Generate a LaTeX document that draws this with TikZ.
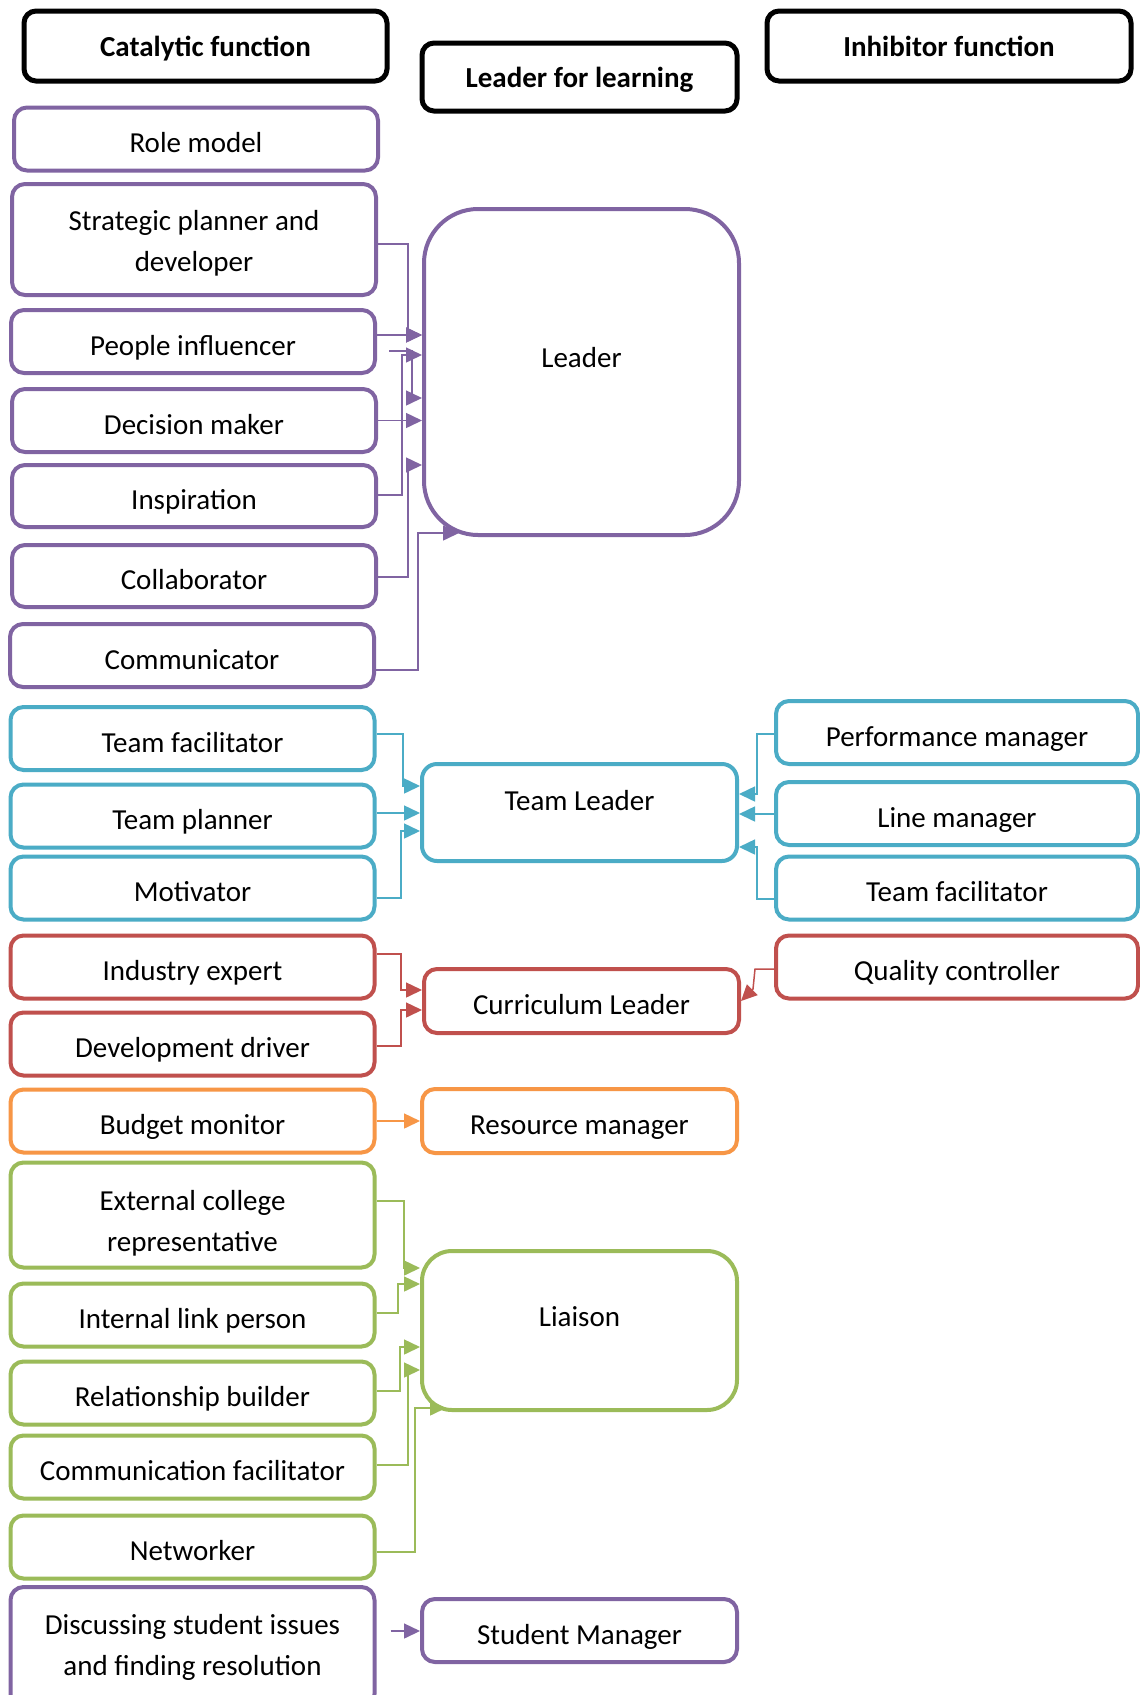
\documentclass[tikz,border=0pt]{standalone}
\usepackage{fontspec}
\setmainfont{Carlito}
\usetikzlibrary{arrows.meta}
\definecolor{cpurple}{HTML}{8064A2}
\definecolor{cteal}{HTML}{4BACC6}
\definecolor{cred}{HTML}{C0504D}
\definecolor{corange}{HTML}{F79646}
\definecolor{cgreen}{HTML}{9BBB59}
\newcommand{\boxfont}{\fontsize{29}{41}\selectfont}
\begin{document}
\begin{tikzpicture}[x=1pt,y=-1pt,
  box/.style={draw, line width=4pt, rounded corners=13pt, fill=white, inner sep=0pt,
    align=center, font=\boxfont, minimum height=63pt, text height=28pt, text depth=1pt},
  lbox/.style={box, minimum width=364pt},
  rbox/.style={box, minimum width=362pt},
  mbox/.style={box, minimum width=315pt},
  head/.style={box, draw=black, line width=5pt, rounded corners=12pt,
    font=\bfseries\boxfont, minimum height=70pt, text height=22pt, text depth=1pt},
  link/.style={line width=1.5pt, -{Triangle[length=16pt,width=15pt]}},
  midtext/.style={font=\boxfont, yshift=#1},
]
\useasboundingbox (0,0) rectangle (1140,1695);
\clip (0,0) rectangle (1140,1695);
\fill[white] (0,0) rectangle (1140,1695);

% column headings
\node[head, minimum width=363pt] (cat) at (205.5,46) {Catalytic function};
\node[head, minimum width=315pt, minimum height=68pt] (lfl) at (579.5,77) {Leader for learning};
\node[head, minimum width=364pt] (inh) at (949,46) {Inhibitor function};

% catalytic functions
\node[lbox, draw=cpurple] (role) at (196,139) {Role model};
\node[lbox, draw=cpurple, minimum height=111pt, text height=63pt, text depth=0pt] (strat) at (194,239.5) {Strategic planner and\\developer};
\node[lbox, draw=cpurple] (people) at (193,341.5) {People influencer};
\node[lbox, draw=cpurple] (decision) at (194,420.5) {Decision maker};
\node[lbox, draw=cpurple, minimum height=62pt] (inspire) at (194,496) {Inspiration};
\node[lbox, draw=cpurple, minimum height=62pt] (collab) at (194,576) {Collaborator};
\node[lbox, draw=cpurple] (comm) at (192,655.5) {Communicator};

\node[lbox, draw=cteal] (tfac) at (192.5,738.5) {Team facilitator};
\node[lbox, draw=cteal] (tplan) at (192.5,816) {Team planner};
\node[lbox, draw=cteal] (motiv) at (192.5,888) {Motivator};

\node[lbox, draw=cred] (industry) at (192.5,967) {Industry expert};
\node[lbox, draw=cred] (devdrv) at (192.5,1044) {Development driver};

\node[lbox, draw=corange] (budget) at (192.5,1121) {Budget monitor};

\node[lbox, draw=cgreen, minimum height=105pt, text height=73pt, text depth=0pt] (extcol) at (192.5,1215) {External college\\representative};
\node[lbox, draw=cgreen] (intlink) at (192.5,1315) {Internal link person};
\node[lbox, draw=cgreen] (relbuild) at (192.5,1393) {Relationship builder};
\node[lbox, draw=cgreen] (commfac) at (192.5,1467) {Communication facilitator};
\node[lbox, draw=cgreen] (network) at (192.5,1547) {Networker};

\node[lbox, draw=cpurple, minimum height=120pt, text height=62pt, text depth=6pt] (discuss) at (192.5,1647) {Discussing student issues\\and finding resolution};

% leader-for-learning roles
\node[mbox, draw=cpurple, minimum height=326pt, rounded corners=54pt,
  label={[midtext=14pt]center:Leader}] (leader) at (581.5,372) {};
\node[mbox, draw=cteal, minimum height=97pt, rounded corners=15pt,
  label={[midtext=12pt]center:Team Leader}] (tleader) at (579.5,812.5) {};
\node[mbox, draw=cred, minimum height=64pt] (cleader) at (581.5,1001) {Curriculum Leader};
\node[mbox, draw=corange, minimum height=64pt] (resmgr) at (579.5,1121) {Resource manager};
\node[mbox, draw=cgreen, minimum height=159pt, rounded corners=30pt,
  label={[midtext=14pt]center:Liaison}] (liaison) at (579.5,1330.5) {};
\node[mbox, draw=cpurple] (stumgr) at (579.5,1630.5) {Student Manager};

% inhibitor functions
\node[rbox, draw=cteal] (perf) at (957,732.5) {Performance manager};
\node[rbox, draw=cteal] (linemgr) at (957,813.5) {Line manager};
\node[rbox, draw=cteal] (tfacr) at (957,888) {Team facilitator};
\node[rbox, draw=cred] (quality) at (957,967) {Quality controller};

% connectors into Leader
\begin{scope}[cpurple]
\draw[link] (strat.east |- 0,244) -| (408,335) -- (leader.west |- 0,335);
\draw[link] (people.east |- 0,335) -- (leader.west |- 0,335);
\draw[link] ([xshift=12pt]people.east |- 0,351) -- (412,351) -- (412,398) -- (leader.west |- 0,398);
\draw[link] (decision.east) -- (leader.west |- decision.east);
\draw[link] (inspire.east |- 0,495) -| (402,355) -- (leader.west |- 0,355);
\draw[link] (collab.east |- 0,577) -| (408,465) -- (leader.west |- 0,465);
\draw[link] (comm.east |- 0,670) -| (418,533) -- (459,533);
\end{scope}

% connectors into Team Leader
\begin{scope}[cteal]
\draw[link] (tfac.east |- 0,734) -| (403,786) -- (tleader.west |- 0,786);
\draw[link] (tplan.east |- 0,813) -- (tleader.west |- 0,813);
\draw[link] (motiv.east |- 0,898) -| (401,831) -- (tleader.west |- 0,831);
\draw[link] (perf.west |- 0,734) -| (757,794) -- (tleader.east |- 0,794);
\draw[link] (linemgr.west |- 0,814) -- (tleader.east |- 0,814);
\draw[link] (tfacr.west |- 0,899) -| (757,847) -- (tleader.east |- 0,847);
\end{scope}

% connectors into Curriculum Leader
\begin{scope}[cred]
\draw[link] (industry.east |- 0,954) -| (401,990) -- (cleader.west |- 0,990);
\draw[link] (devdrv.east |- 0,1046) -| (401,1010) -- (cleader.west |- 0,1010);
\draw[link] (quality.west |- 0,969) -- (755,969) -- (753,989) -- (741,1001);
\end{scope}

% connector into Resource manager
\draw[link, corange] (budget.east) -- (resmgr.west |- budget.east);

% connectors into Liaison
\begin{scope}[cgreen]
\draw[link] (extcol.east |- 0,1201) -| (404,1268) -- (liaison.west |- 0,1268);
\draw[link] (intlink.east |- 0,1313) -| (398,1284) -- (liaison.west |- 0,1284);
\draw[link] (relbuild.east |- 0,1391) -| (400,1347) -- (liaison.west |- 0,1347);
\draw[link] (commfac.east |- 0,1465) -| (408,1370) -- (liaison.west |- 0,1370);
\draw[link] (network.east |- 0,1552) -| (415,1408) -- (446,1408);
\end{scope}

% connector into Student Manager
\draw[link, cpurple, shorten <=14pt] (discuss.east |- 0,1631) -- (stumgr.west |- 0,1631);
\end{tikzpicture}
\end{document}
